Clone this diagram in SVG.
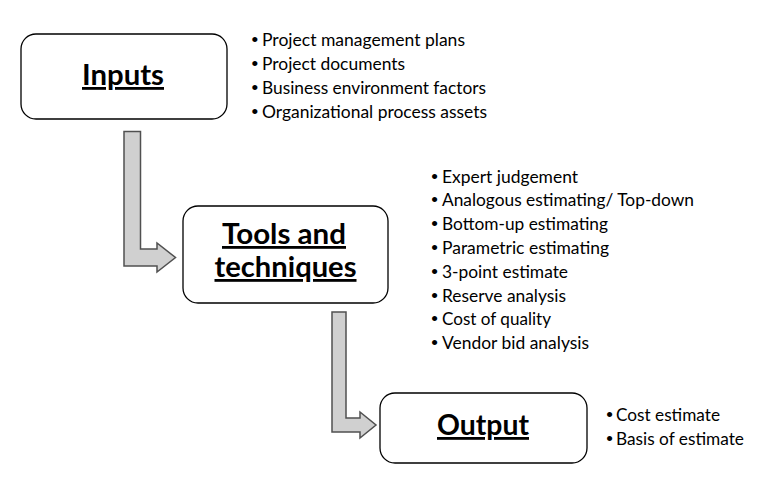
<svg xmlns="http://www.w3.org/2000/svg" width="770" height="479" viewBox="0 0 770 479">
<style>
.box{fill:#fff;stroke:#000;stroke-width:1.3}
.title{font-family:Lato,"Liberation Sans",sans-serif;font-weight:bold;font-size:28px;fill:#000;text-anchor:middle;text-decoration:underline}
.item{font-family:Lato,"Liberation Sans",sans-serif;font-size:17px;fill:#000}
.bul{font-family:"Liberation Sans",sans-serif;font-size:19px;fill:#000;text-anchor:middle}
.arrow{fill:#d0d0d0;stroke:#505050;stroke-width:1.5;stroke-linejoin:miter}
</style>
<rect width="770" height="479" fill="#fff"/>
<g id="connectors">
<polygon class="arrow" points="124,131.5 140.5,131.5 140.5,249 157,249 157,243 175.5,257.5 157,272 157,266 124,266"/>
<polygon class="arrow" points="332,312 346,312 346,418 360,418 360,412 376,425 360,438 360,432 332,432"/>
</g>
<g id="inputs">
<rect class="box" x="21" y="34" width="206" height="85" rx="15"/>
<text class="title" x="123" y="85" textLength="82" lengthAdjust="spacingAndGlyphs">Inputs</text>
</g>
<g id="inputs-list">
<text class="bul" x="254.8" y="46">•</text>
<text class="bul" x="254.8" y="70">•</text>
<text class="bul" x="254.8" y="94">•</text>
<text class="bul" x="254.8" y="118">•</text>
<text class="item" x="262" y="46" textLength="203" lengthAdjust="spacingAndGlyphs">Project management plans</text>
<text class="item" x="262" y="70" textLength="143" lengthAdjust="spacingAndGlyphs">Project documents</text>
<text class="item" x="262" y="94" textLength="224" lengthAdjust="spacingAndGlyphs">Business environment factors</text>
<text class="item" x="262" y="118" textLength="225" lengthAdjust="spacingAndGlyphs">Organizational process assets</text>
</g>
<g id="tools">
<rect class="box" x="183" y="206" width="205" height="97" rx="15"/>
<text class="title" x="284" y="244" textLength="124" lengthAdjust="spacingAndGlyphs">Tools and</text>
<text class="title" x="285.5" y="277" textLength="142" lengthAdjust="spacingAndGlyphs">techniques</text>
</g>
<g id="tools-list">
<text class="bul" x="434.5" y="182.5">•</text>
<text class="bul" x="434.5" y="206.3">•</text>
<text class="bul" x="434.5" y="230.1">•</text>
<text class="bul" x="434.5" y="253.9">•</text>
<text class="bul" x="434.5" y="277.7">•</text>
<text class="bul" x="434.5" y="301.5">•</text>
<text class="bul" x="434.5" y="325.3">•</text>
<text class="bul" x="434.5" y="349.1">•</text>
<text class="item" x="442" y="182.5" textLength="136" lengthAdjust="spacingAndGlyphs">Expert judgement</text>
<text class="item" x="442" y="206.3" textLength="252" lengthAdjust="spacingAndGlyphs">Analogous estimating/ Top-down</text>
<text class="item" x="442" y="230.1" textLength="166" lengthAdjust="spacingAndGlyphs">Bottom-up estimating</text>
<text class="item" x="442" y="253.9" textLength="167" lengthAdjust="spacingAndGlyphs">Parametric estimating</text>
<text class="item" x="442" y="277.7" textLength="126" lengthAdjust="spacingAndGlyphs">3-point estimate</text>
<text class="item" x="442" y="301.5" textLength="124" lengthAdjust="spacingAndGlyphs">Reserve analysis</text>
<text class="item" x="442" y="325.3" textLength="109" lengthAdjust="spacingAndGlyphs">Cost of quality</text>
<text class="item" x="442" y="349.1" textLength="147" lengthAdjust="spacingAndGlyphs">Vendor bid analysis</text>
</g>
<g id="output">
<rect class="box" x="380" y="393" width="207" height="70" rx="15"/>
<text class="title" x="483" y="435" textLength="92" lengthAdjust="spacingAndGlyphs">Output</text>
</g>
<g id="output-list">
<text class="bul" x="609.5" y="421">•</text>
<text class="bul" x="609.5" y="445">•</text>
<text class="item" x="616" y="421" textLength="104" lengthAdjust="spacingAndGlyphs">Cost estimate</text>
<text class="item" x="616" y="445" textLength="128" lengthAdjust="spacingAndGlyphs">Basis of estimate</text>
</g>
</svg>
